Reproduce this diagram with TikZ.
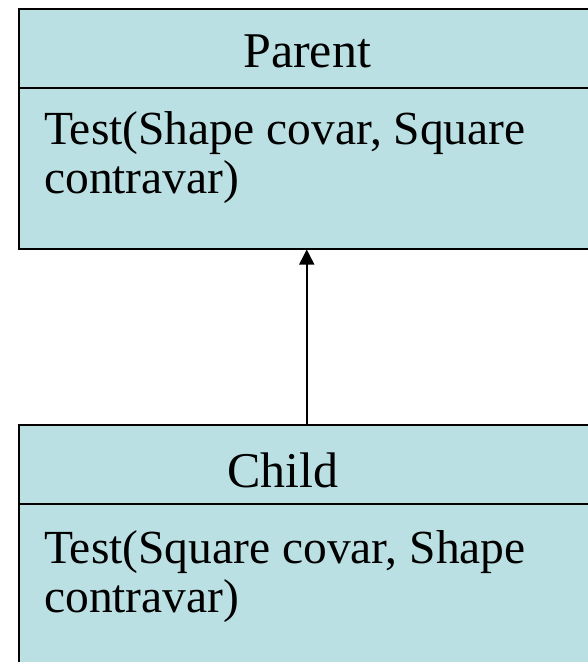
\documentclass[tikz,border=0pt]{standalone}
\usepackage{fontspec}
\setmainfont{Liberation Serif}
\usetikzlibrary{arrows.meta}
\definecolor{classfill}{HTML}{BBE0E3}
\tikzset{
  classbox/.style={draw=black, line width=1.5pt, fill=classfill, rectangle,
    anchor=north west, inner sep=0pt, minimum width=576pt},
  divider/.style={draw=black, line width=1.5pt},
  classname/.style={anchor=base west, inner sep=0pt,
    font=\fontsize{50}{50}\selectfont},
  % multi-line member text: the base anchor sits on the last line
  member/.style={anchor=base west, inner sep=0pt, align=left,
    font=\fontsize{47.5}{48.5}\selectfont},
  inherit/.style={draw=black, line width=1.5pt,
    -{Triangle[length=15pt,width=15pt]}}
}
\begin{document}
\begin{tikzpicture}[x=1pt,y=-1pt]
  \useasboundingbox (0,0) rectangle (588,662);
  \clip (0,0) rectangle (588,662);
  % Parent class
  \node[classbox, minimum height=240pt] (parent) at (18,8) {};
  \draw[divider] (parent.north west) ++(0,80) -- ++(600,0);
  \node[classname] (parentname) at (243,67) {Parent};
  \node[member] (parentop) at (44,193) {Test(Shape covar, Square\\contravar)};
  % Child class
  \node[classbox, minimum height=270pt] (child) at (18,424) {};
  \draw[divider] (child.north west) ++(0,80) -- ++(600,0);
  \node[classname] (childname) at (227,487) {Child};
  \node[member] (childop) at (44,612) {Test(Square covar, Shape\\contravar)};
  % Generalization
  \draw[inherit] (child.north) -- (parent.south);
\end{tikzpicture}
\end{document}
